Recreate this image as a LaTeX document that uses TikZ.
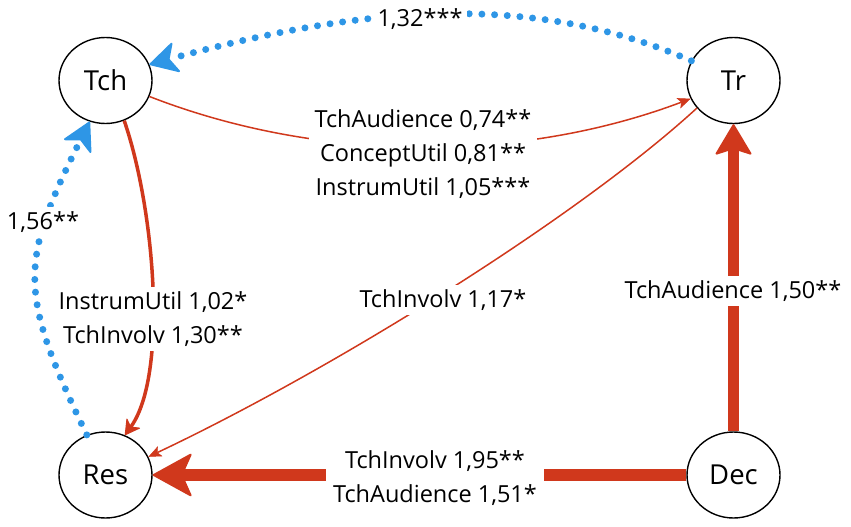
\documentclass[tikz,border=0pt]{standalone}
\usepackage{fontspec}
\setmainfont{Open Sans}
\usetikzlibrary{arrows.meta,shapes.geometric}
\definecolor{cred}{RGB}{208,56,28}
\definecolor{cblue}{RGB}{46,150,230}
\begin{document}
\begin{tikzpicture}[x=1pt,y=-1pt,
  var/.style={draw=black, line width=1.4pt, ellipse, minimum width=93pt, minimum height=86pt, inner sep=0pt, font=\fontsize{27.5}{30}\selectfont},
  lbl/.style={fill=white, inner sep=5pt, align=center, font=\fontsize{23.5}{34}\selectfont},
  bluedot/.style={cblue, line width=7pt, line cap=round, dash pattern=on 0pt off 12.7pt,
    -{Stealth[length=30pt,width=33pt,inset=8pt,line width=2pt,round]}},
  thinred/.style={cred, line width=1.5pt, -{Stealth[length=13pt,width=11pt,inset=3pt,line width=0.5pt]}},
  midred/.style={cred, line width=3.5pt, -{Stealth[length=16pt,width=18pt,inset=5pt,round,line width=1pt]}},
  thickredv/.style={cred, line width=11pt, -{Stealth[length=32pt,width=38pt,inset=6pt,round,line width=2pt]}},
  thickredh/.style={cred, line width=12pt, -{Stealth[length=41pt,width=45pt,inset=10pt,round,line width=2pt]}}
]
\useasboundingbox (0,0) rectangle (851,527);

\node[var] (Tch) at (105.5,80.5) {Tch};
\node[var] (Tr)  at (733.5,80.5) {Tr};
\node[var] (Res) at (105.5,475) {Res};
\node[var] (Dec) at (733.5,475) {Dec};

% connectors
\draw[bluedot] (Tr.155) .. controls (517,-16) and (334,14) .. (Tch.20);
\draw[bluedot] (Res.115) .. controls (18,292) and (19,263) .. (Tch.249);
\draw[thinred] (Tch.-20) .. controls (320,163) and (520,163) .. (Tr.203);
\draw[thinred] (Tr.217) .. controls (577,218) and (332,370) .. (Res.23);
\draw[midred] (Tch.-65) .. controls (155,210) and (168,375) .. (Res.64);
\draw[thickredv] (Dec.north) -- (Tr.south);
\draw[thickredh] (Dec.west) -- (Res.east);

% labels
\node[lbl] (l1) at (420,19) {1,32***};
\node[lbl] (l2) at (43,222) {1,56**};
\node[lbl, inner sep=6pt] (l3) at (423,154) {TchAudience 0,74**\\ConceptUtil 0,81**\\InstrumUtil 1,05***};
\node[lbl] (l4) at (153,319) {InstrumUtil 1,02*\\TchInvolv 1,30**};
\node[lbl] (l5) at (443,300) {TchInvolv 1,17*};
\node[lbl] (l6) at (733,291) {TchAudience 1,50**};
\node[lbl, inner sep=7pt] (l7) at (435,478) {TchInvolv 1,95**\\TchAudience 1,51*};
\end{tikzpicture}
\end{document}
